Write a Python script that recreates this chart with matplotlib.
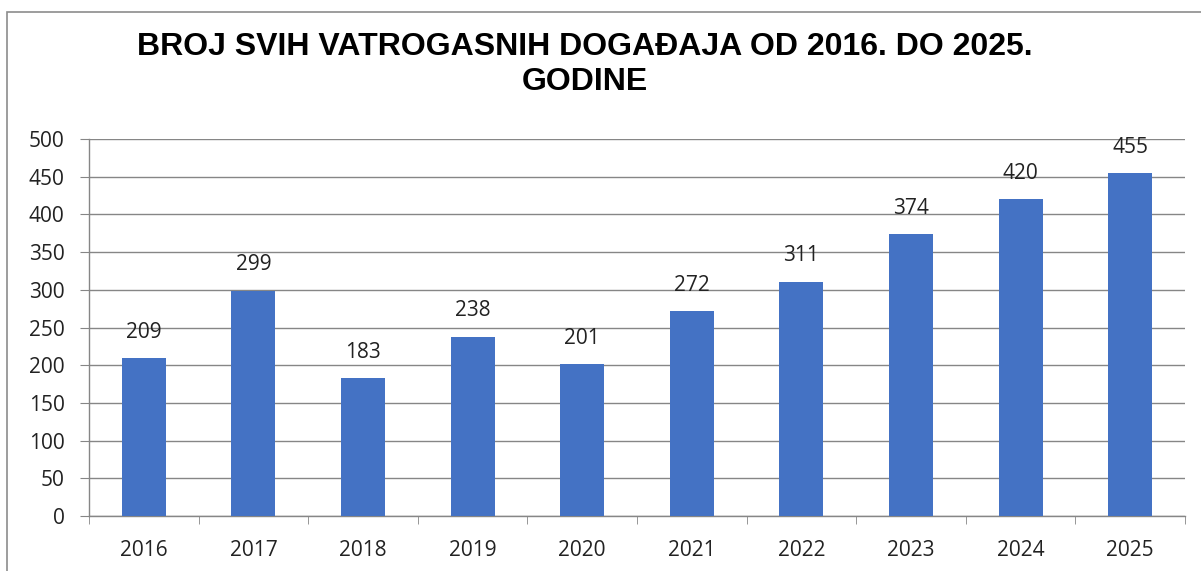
import matplotlib
matplotlib.use("Agg")
import matplotlib.pyplot as plt
import numpy as np
from matplotlib.patches import Rectangle

years = ["2016", "2017", "2018", "2019", "2020", "2021", "2022", "2023", "2024", "2025"]
values = [209, 299, 183, 238, 201, 272, 311, 374, 420, 455]
yticks = [0, 50, 100, 150, 200, 250, 300, 350, 400, 450, 500]
title_lines = ["BROJ SVIH VATROGASNIH DOGAĐAJA OD 2016. DO 2025.", "GODINE"]

W, H = 1201, 571
fig = plt.figure(figsize=(W / 100, H / 100), dpi=100)
fig.patch.set_facecolor("white")

# outer frame
fig.add_artist(Rectangle((7 / W, -0.1), 1.2, (H - 12) / H + 0.1, transform=fig.transFigure,
                         fill=False, edgecolor="#8c8c8c", linewidth=1.2))

ax = fig.add_axes([89 / W, (H - 516) / H, (1185 - 89) / W, (516 - 139) / H])
x = np.arange(len(years))
ax.bar(x, values, width=0.4, color="#4472C4", zorder=3)
ax.set_xlim(-0.5, len(years) - 0.5)
ax.set_ylim(0, 500)
ax.set_yticks(yticks)
ax.grid(axis="y", color="#868686", linewidth=1.0, zorder=0)
for s in ["top", "right"]:
    ax.spines[s].set_visible(False)
for s in ["left", "bottom"]:
    ax.spines[s].set_color("#868686")
    ax.spines[s].set_linewidth(1.0)

tick_font = "Open Sans"
fs = 15
ax.tick_params(axis="y", length=6.5, color="#868686", pad=11, labelsize=fs, labelcolor="#222222")
for lbl in ax.get_yticklabels():
    lbl.set_fontfamily(tick_font)
ax.set_xticks(x)
ax.set_xticklabels(years, fontsize=fs, color="#222222", fontfamily=tick_font)
ax.tick_params(axis="x", which="major", length=0, pad=17)
ax.set_xticks(np.arange(-0.5, len(years)), minor=True)
ax.tick_params(axis="x", which="minor", length=6, color="#868686")

for xi, v in zip(x, values):
    ax.annotate(str(v), (xi, v), xytext=(0, 11), textcoords="offset points",
                ha="center", va="bottom", fontsize=fs, color="#222222", fontfamily=tick_font)

fig.text(585 / W, 1 - 47 / H, title_lines[0], ha="center", va="center", fontsize=23,
         fontweight="bold", fontfamily="Liberation Sans")
fig.text(585 / W, 1 - 82 / H, title_lines[1], ha="center", va="center", fontsize=23,
         fontweight="bold", fontfamily="Liberation Sans")

fig.savefig("out.png", dpi=100)
